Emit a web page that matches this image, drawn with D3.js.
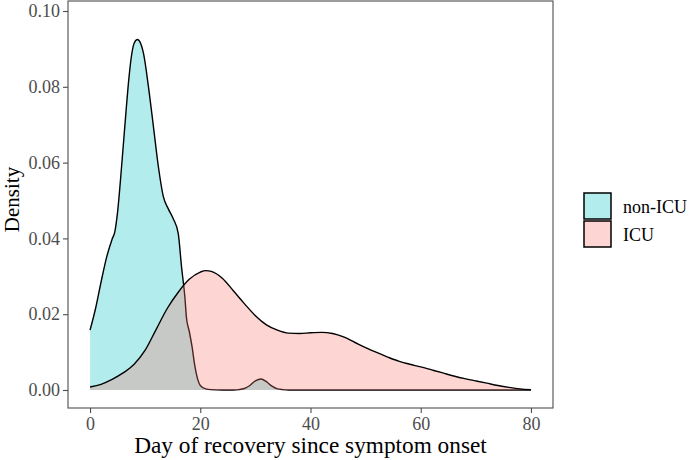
<!DOCTYPE html>
<html><head><meta charset="utf-8">
<script src="https://cdn.jsdelivr.net/npm/d3@7"></script>
<style>body{margin:0;background:#fff}svg{display:block}</style>
</head><body>
<svg id="chart" width="690" height="460"></svg>
<script>
// ---- data ----
const groups = ["non-ICU", "ICU"];
const nonIcuDay     = [0, 1, 2, 3, 4, 4.5, 5, 5.5, 6, 6.5, 7, 7.5, 8, 8.6, 9, 9.7, 10.6, 11.5, 12.4, 13.3, 14.2, 15.1, 16, 16.6, 17.2, 17.5, 18, 18.5, 19, 19.5, 20, 21, 22, 24, 26, 27, 28, 29, 30, 31, 32, 33, 34, 35, 36, 40, 50, 60, 70, 80];
const nonIcuDensity = [0.0158, 0.0215, 0.0285, 0.0350, 0.0398, 0.0418, 0.0470, 0.0550, 0.0640, 0.0730, 0.0815, 0.0880, 0.0915, 0.0925, 0.0920, 0.0888, 0.0800, 0.0695, 0.0589, 0.0510, 0.0478, 0.0452, 0.0413, 0.0325, 0.0246, 0.0190, 0.0155, 0.0115, 0.0065, 0.0030, 0.0012, 0.0003, 0.0001, 0.0000, 0.0000, 0.0001, 0.0004, 0.0012, 0.0024, 0.0029, 0.0022, 0.0010, 0.0003, 0.0001, 0.0000, 0.0000, 0.0000, 0.0000, 0.0000, 0.0000];
const icuDay     = [0, 2, 4, 6, 8, 10, 12, 14, 16, 18, 20, 21, 22, 24, 26, 28, 30, 32, 34, 36, 38, 40, 42, 44, 46, 48, 50, 52, 54, 56, 58, 60, 62, 64, 66, 68, 70, 72, 74, 76, 78, 80];
const icuDensity = [0.0008, 0.0015, 0.0028, 0.0045, 0.0068, 0.0105, 0.0160, 0.0215, 0.0258, 0.0292, 0.0311, 0.0315, 0.0313, 0.0295, 0.0262, 0.0228, 0.0196, 0.0172, 0.0158, 0.0150, 0.0149, 0.0151, 0.0152, 0.0149, 0.0140, 0.0126, 0.0112, 0.0099, 0.0087, 0.0076, 0.0068, 0.0061, 0.0053, 0.0045, 0.0037, 0.0030, 0.0024, 0.0018, 0.0012, 0.0007, 0.0003, 0.0001];
const xTicks = [0, 20, 40, 60, 80];
const yTicks = [0.00, 0.02, 0.04, 0.06, 0.08, 0.10];
const groupColors = ["#00BFC4", "#F8766D"];
const xTitle = "Day of recovery since symptom onset";
const yTitle = "Density";

// ---- drawing ----
const svg = d3.select("#chart");
const font = "'Liberation Serif','Times New Roman',serif";
const P = {l: 68, r: 553, t: 1, b: 408};

const x = d3.scaleLinear().domain([-4, 84]).range([P.l, P.r]);
const y = d3.scaleLinear().domain([0, 0.10]).range([390, 11]);
const color = d3.scaleOrdinal().domain(groups).range(groupColors);

const series = [
  {name: "non-ICU", pts: nonIcuDay.map((d, i) => [d, nonIcuDensity[i]])},
  {name: "ICU", pts: icuDay.map((d, i) => [d, icuDensity[i]])}
];

const area = d3.area().x(d => x(d[0])).y0(y(0)).y1(d => y(d[1])).curve(d3.curveMonotoneX);
const line = d3.line().x(d => x(d[0])).y(d => y(d[1])).curve(d3.curveMonotoneX);

series.forEach(s => {
  svg.append("path").attr("d", area(s.pts)).attr("fill", color(s.name)).attr("fill-opacity", 0.3);
  svg.append("path").attr("d", line(s.pts)).attr("fill", "none").attr("stroke", "#000").attr("stroke-width", 1.4);
});

// panel border
svg.append("rect").attr("x", P.l).attr("y", P.t).attr("width", P.r - P.l).attr("height", P.b - P.t)
  .attr("fill", "none").attr("stroke", "#4d4d4d").attr("stroke-width", 1.1);

// axes
const gx = svg.append("g").attr("transform", `translate(0,${P.b})`)
  .call(d3.axisBottom(x).tickValues(xTicks).tickSize(5).tickSizeOuter(0).tickPadding(4));
const gy = svg.append("g").attr("transform", `translate(${P.l},0)`)
  .call(d3.axisLeft(y).tickValues(yTicks).tickFormat(d3.format(".2f")).tickSize(5).tickSizeOuter(0).tickPadding(3));
[gx, gy].forEach(g => {
  g.select(".domain").remove();
  g.selectAll(".tick line").attr("stroke", "#4d4d4d").attr("stroke-width", 1.1);
  g.selectAll(".tick text").attr("fill", "#4d4d4d").style("font-family", font).style("font-size", "18px");
});

// titles
svg.append("text").attr("x", (P.l + P.r) / 2).attr("y", 453).attr("text-anchor", "middle")
  .style("font-family", font).style("font-size", "23.3px").attr("fill", "#000").text(xTitle);
svg.append("text").attr("transform", `translate(19,${(P.t + P.b) / 2 - 5}) rotate(-90)`).attr("text-anchor", "middle")
  .style("font-family", font).style("font-size", "21px").attr("fill", "#000").text(yTitle);

// legend
const lg = svg.append("g").attr("transform", "translate(584,193)");
groups.forEach((g, i) => {
  lg.append("rect").attr("x", 0).attr("y", i * 28).attr("width", 27).attr("height", 26)
    .attr("fill", color(g)).attr("fill-opacity", 0.3).attr("stroke", "#000").attr("stroke-width", 1.5);
  lg.append("text").attr("x", 39).attr("y", i * 28 + 20)
    .style("font-family", font).style("font-size", "18px").attr("fill", "#000").text(g);
});
</script>
</body></html>
